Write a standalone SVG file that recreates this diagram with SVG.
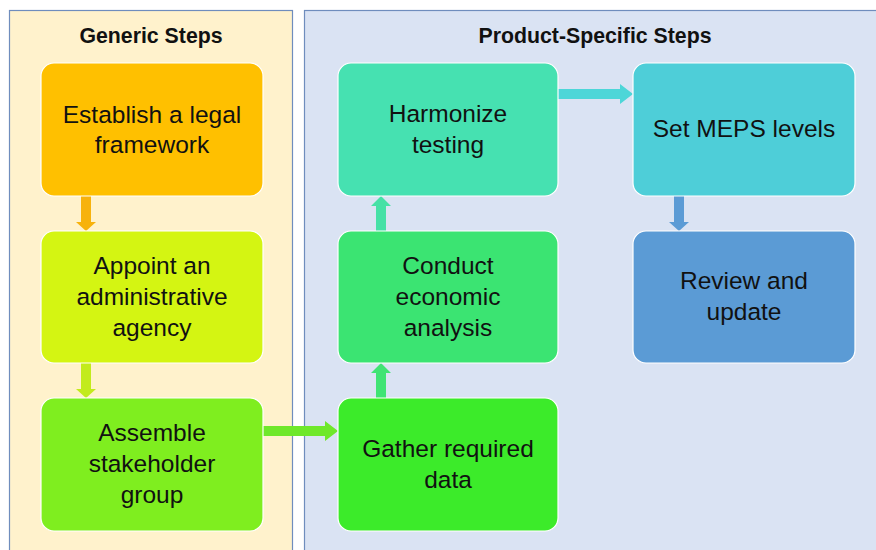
<svg xmlns="http://www.w3.org/2000/svg" width="876" height="550" viewBox="0 0 876 550">
<style>
.panel{stroke:#6f8dbd;stroke-width:1.2}
.box{stroke:#ffffff;stroke-width:1.2}
.t{font-family:"Liberation Sans",Arial,sans-serif;font-size:24.5px;fill:#111;text-anchor:middle}
.h{font-family:"Liberation Sans",Arial,sans-serif;font-size:21.3px;font-weight:bold;fill:#111;text-anchor:middle}
</style>
<rect width="876" height="550" fill="#ffffff"/>
<g id="panel-generic">
<rect class="panel" x="9.5" y="10.5" width="283" height="545" fill="#FFF2CC"/>
<text class="h" x="151" y="43">Generic Steps</text>
</g>
<g id="panel-product">
<rect class="panel" x="304.5" y="10.5" width="580" height="545" fill="#DAE3F3"/>
<text class="h" x="595" y="43">Product-Specific Steps</text>
</g>
<g id="connectors">
<polygon points="81,196 91,196 91,222 96,222 86,231 76,222 81,222" fill="#F7B20C"/>
<polygon points="81,363 91,363 91,389 96,389 86,398 76,389 81,389" fill="#C2EB1C"/>
<polygon points="263,426 325,426 325,421 338,431 325,441 325,436 263,436" fill="#6FE82A"/>
<polygon points="376,398 386,398 386,373 391,373 381,363 371,373 376,373" fill="#40E474"/>
<polygon points="376,231 386,231 386,206 391,206 381,196 371,206 376,206" fill="#45E1A6"/>
<polygon points="558,89 620,89 620,84 633,94 620,104 620,99 558,99" fill="#4DD6D8"/>
<polygon points="674,196 684,196 684,222 689,222 679,231 669,222 674,222" fill="#5B9BD5"/>
</g>
<g id="n1">
<rect class="box" x="41" y="63" width="222" height="133" rx="13" fill="#FFC000"/>
<text class="t" x="152" y="123">Establish a legal</text>
<text class="t" x="152" y="153">framework</text>
</g>
<g id="n2">
<rect class="box" x="41" y="231" width="222" height="132" rx="13" fill="#D4F512"/>
<text class="t" x="152" y="274">Appoint an</text>
<text class="t" x="152" y="305">administrative</text>
<text class="t" x="152" y="336">agency</text>
</g>
<g id="n3">
<rect class="box" x="41" y="398" width="222" height="133" rx="13" fill="#7FEE1F"/>
<text class="t" x="152" y="441">Assemble</text>
<text class="t" x="152" y="472">stakeholder</text>
<text class="t" x="152" y="503">group</text>
</g>
<g id="n4">
<rect class="box" x="338" y="398" width="220" height="133" rx="13" fill="#3CEB2A"/>
<text class="t" x="448" y="457">Gather required</text>
<text class="t" x="448" y="488">data</text>
</g>
<g id="n5">
<rect class="box" x="338" y="231" width="220" height="132" rx="13" fill="#3BE472"/>
<text class="t" x="448" y="274">Conduct</text>
<text class="t" x="448" y="305">economic</text>
<text class="t" x="448" y="336">analysis</text>
</g>
<g id="n6">
<rect class="box" x="338" y="63" width="220" height="133" rx="13" fill="#46E1B1"/>
<text class="t" x="448" y="122">Harmonize</text>
<text class="t" x="448" y="153">testing</text>
</g>
<g id="n7">
<rect class="box" x="633" y="63" width="222" height="133" rx="13" fill="#4ECED8"/>
<text class="t" x="744" y="137">Set MEPS levels</text>
</g>
<g id="n8">
<rect class="box" x="633" y="231" width="222" height="132" rx="13" fill="#5B9BD5"/>
<text class="t" x="744" y="289">Review and</text>
<text class="t" x="744" y="320">update</text>
</g>
</svg>
